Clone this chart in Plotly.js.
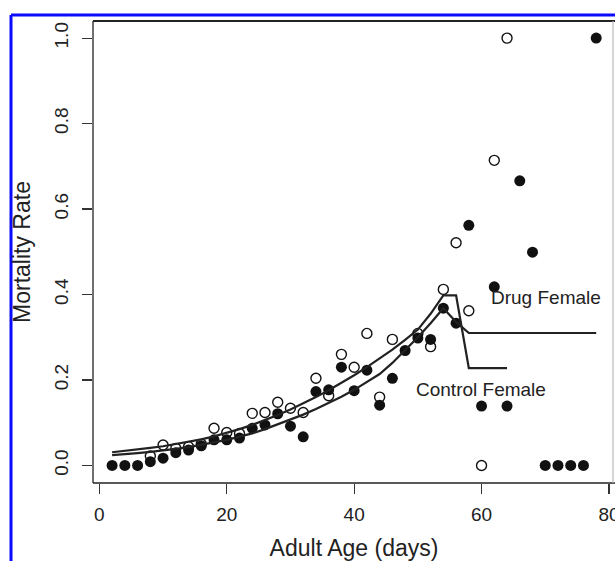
<!DOCTYPE html>
<html>
<head>
<meta charset="utf-8">
<script src="https://cdn.plot.ly/plotly-3.0.1.min.js"></script>
<style>html,body{margin:0;padding:0;background:#fff;}#chart{width:615px;height:561px;}</style>
</head>
<body>
<div id="chart"></div>
<script>
// Observed mortality rates, control females (open circles)
const controlAges  = [8, 10, 12, 14, 16, 18, 20, 22, 24, 26, 28, 30, 32, 34, 36, 38, 40, 42, 44, 46, 50, 52, 54, 56, 58, 60, 62, 64];
const controlRates = [0.022, 0.048, 0.040, 0.044, 0.050, 0.087, 0.077, 0.075, 0.122, 0.124, 0.148, 0.134, 0.124, 0.204, 0.163, 0.260, 0.230, 0.309, 0.160, 0.295, 0.309, 0.278, 0.412, 0.521, 0.362, 0.0, 0.714, 1.0];

// Observed mortality rates, drug females (filled circles)
const drugAges  = [2, 4, 6, 8, 10, 12, 14, 16, 18, 20, 22, 24, 26, 28, 30, 32, 34, 36, 38, 40, 42, 44, 46, 48, 50, 52, 54, 56, 58, 60, 62, 64, 66, 68, 70, 72, 74, 76, 78];
const drugRates = [0.0, 0.0, 0.0, 0.009, 0.017, 0.030, 0.036, 0.046, 0.060, 0.060, 0.064, 0.087, 0.095, 0.121, 0.092, 0.067, 0.173, 0.177, 0.230, 0.175, 0.223, 0.141, 0.204, 0.269, 0.298, 0.295, 0.368, 0.333, 0.562, 0.139, 0.418, 0.139, 0.666, 0.499, 0.0, 0.0, 0.0, 0.0, 1.0];

// Fitted curves
const controlFitAges = [2, 4, 6, 8, 10, 12, 14, 16, 18, 20, 22, 24, 26, 28, 30, 32, 34, 36, 38, 40, 42, 44, 46, 48, 50, 52, 54, 56, 58, 60, 62, 64];
const controlFit     = [0.031, 0.034, 0.037, 0.041, 0.045, 0.050, 0.055, 0.061, 0.068, 0.076, 0.085, 0.095, 0.106, 0.118, 0.131, 0.145, 0.160, 0.176, 0.193, 0.211, 0.230, 0.250, 0.271, 0.294, 0.318, 0.355, 0.398, 0.398, 0.228, 0.228, 0.228, 0.228];
const drugFitAges = [2, 4, 6, 8, 10, 12, 14, 16, 18, 20, 22, 24, 26, 28, 30, 32, 34, 36, 38, 40, 42, 44, 46, 48, 50, 52, 54, 56, 58, 60, 62, 64, 66, 68, 70, 72, 74, 76, 78];
const drugFit     = [0.024, 0.026, 0.029, 0.032, 0.035, 0.039, 0.043, 0.048, 0.054, 0.060, 0.067, 0.075, 0.085, 0.096, 0.107, 0.119, 0.132, 0.146, 0.161, 0.177, 0.195, 0.214, 0.240, 0.270, 0.300, 0.333, 0.368, 0.336, 0.310, 0.310, 0.310, 0.310, 0.310, 0.310, 0.310, 0.310, 0.310, 0.310, 0.310];

const xTicks = [0, 20, 40, 60, 80];
const yTicks = [0.0, 0.2, 0.4, 0.6, 0.8, 1.0];
const labels = {drug: "Drug Female", control: "Control Female", x: "Adult Age (days)", y: "Mortality Rate"};

const FONT = "Liberation Sans, Arial, Helvetica, sans-serif";

const traces = [
  {x: controlAges, y: controlRates, mode: "markers", type: "scatter", name: "Control",
   marker: {symbol: "circle", size: 10, color: "#ffffff", line: {color: "#111", width: 1.4}}, cliponaxis: false},
  {x: drugAges, y: drugRates, mode: "markers", type: "scatter", name: "Drug",
   marker: {symbol: "circle", size: 11, color: "#111", line: {color: "#111", width: 0}}, cliponaxis: false},
  {x: controlFitAges, y: controlFit, mode: "lines", type: "scatter", line: {color: "#222", width: 2.2}},
  {x: drugFitAges, y: drugFit, mode: "lines", type: "scatter", line: {color: "#222", width: 2.2}}
];

const W = 615, H = 561, ML = 93, MT = 21, MB = 78, MR = 0;
const PW = W - ML - MR, PH = H - MT - MB;
function px(x){ return (x - ML) / PW; }
function py(y){ return (H - MB - y) / PH; }

const layout = {
  width: W, height: H,
  margin: {l: ML, r: MR, t: MT, b: MB, pad: 0},
  paper_bgcolor: "#fff", plot_bgcolor: "#fff",
  showlegend: false,
  font: {family: FONT, color: "#222"},
  xaxis: {
    range: [-1.0, 80.95], tickvals: xTicks, ticktext: xTicks.map(String),
    ticks: "outside", ticklen: 10, tickwidth: 1.2, tickcolor: "#333",
    showgrid: false, zeroline: false, showline: false, ticklabeloverflow: "allow",
    tickfont: {size: 19, family: FONT, color: "#222"}, ticklabelstandoff: 4,
    title: {text: labels.x, font: {size: 23, family: FONT, color: "#222"}, standoff: 17}
  },
  yaxis: {
    range: [-0.041, 1.04], tickvals: yTicks, ticktext: yTicks.map(v => v.toFixed(1)),
    ticks: "outside", ticklen: 10, tickwidth: 1.2, tickcolor: "#333", tickangle: -90,
    showgrid: false, zeroline: false, showline: false,
    tickfont: {size: 19, family: FONT, color: "#222"}, ticklabelstandoff: 6,
    title: {text: labels.y, font: {size: 23, family: FONT, color: "#222"}, standoff: 14}
  },
  shapes: [
    // plot box
    {type: "line", xref: "paper", yref: "paper", x0: 0, x1: 0, y0: 0, y1: 1, line: {color: "#333", width: 1.4}},
    {type: "line", xref: "paper", yref: "paper", x0: 0, x1: 1, y0: 1, y1: 1, line: {color: "#222", width: 2}},
    {type: "line", xref: "paper", yref: "paper", x0: 0, x1: 1, y0: 0, y1: 0, line: {color: "#222", width: 1.6}},
    {type: "line", xref: "paper", yref: "paper", x0: px(613), x1: px(613), y0: 0, y1: 1, line: {color: "#bbb", width: 1.2}},
    // blue frame
    {type: "line", xref: "paper", yref: "paper", x0: px(11), x1: px(616), y0: py(15), y1: py(15), line: {color: "#0a0aff", width: 3}},
    {type: "line", xref: "paper", yref: "paper", x0: px(11), x1: px(11), y0: py(15), y1: py(562), line: {color: "#0a0aff", width: 3}}
  ],
  annotations: [
    {x: 70.05, y: 0.394, xref: "x", yref: "y", text: labels.drug, showarrow: false, xanchor: "center", yanchor: "middle",
     font: {size: 19, family: FONT, color: "#222"}},
    {x: 59.9, y: 0.177, xref: "x", yref: "y", text: labels.control, showarrow: false, xanchor: "center", yanchor: "middle",
     font: {size: 19, family: FONT, color: "#222"}}
  ]
};

Plotly.newPlot("chart", traces, layout, {displayModeBar: false, staticPlot: true});
</script>
</body>
</html>
